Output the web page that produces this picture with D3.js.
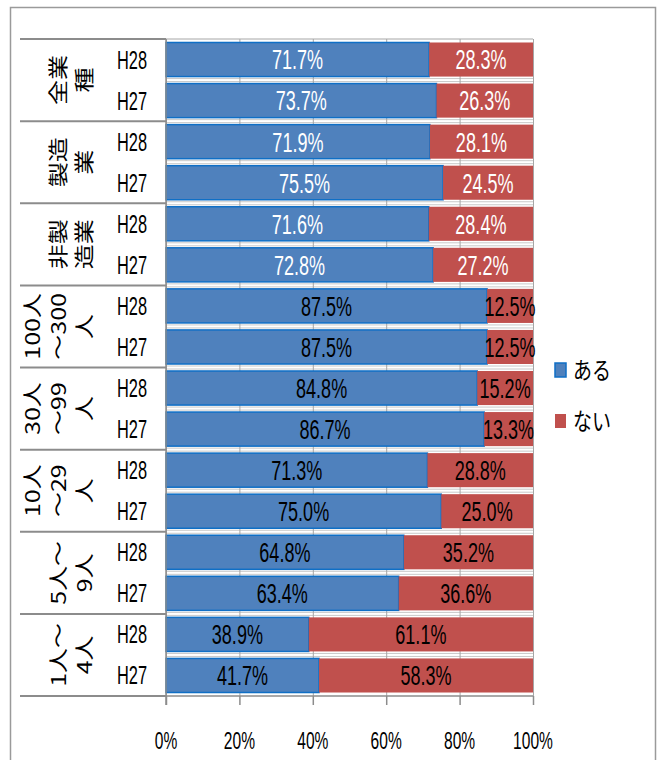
<!DOCTYPE html>
<html>
<head>
<meta charset="utf-8">
<script src="https://cdn.jsdelivr.net/npm/d3@7"></script>
<style>
  body { margin: 0; background: #fff; }
  text { font-family: "Liberation Sans", Arial, sans-serif; }
  .jp { font-family: "Noto Sans CJK JP", sans-serif; }
</style>
</head>
<body>
<div id="chart"></div>
<script>
// categories (each label already wrapped the way the original draws it)
const groupLines = [
  ["全業", "種"],
  ["製造", "業"],
  ["非製", "造業"],
  ["100人", "～300", "人"],
  ["30人", "～99", "人"],
  ["10人", "～29", "人"],
  ["5人～", "9人"],
  ["1人～", "4人"]
];
const years = ["H28", "H27"];
const seriesNames = ["ある", "ない"];
// two rows per group: H28 then H27
const aru = [71.7, 73.7, 71.9, 75.5, 71.6, 72.8, 87.5, 87.5, 84.8, 86.7, 71.3, 75.0, 64.8, 63.4, 38.9, 41.7];
const nai = [28.3, 26.3, 28.1, 24.5, 28.4, 27.2, 12.5, 12.5, 15.2, 13.3, 28.8, 25.0, 35.2, 36.6, 61.1, 58.3];
const tickValues = [0, 0.2, 0.4, 0.6, 0.8, 1];

const colors = { "ある": "#4F81BD", "ない": "#C0504D" };
const SY = 1.25; // the original is stretched vertically
const SX = 0.82; // narrow latin face

const rows = aru.map((v, i) => ({ id: i, group: Math.floor(i / 2), year: years[i % 2], "ある": v, "ない": nai[i] }));

const svg = d3.select("#chart").append("svg")
  .attr("width", 660).attr("height", 760);

// outer chart frame
svg.append("path")
  .attr("d", "M10.5,762 V7.5 H655.5 V762")
  .attr("fill", "none").attr("stroke", "#9a9a9a").attr("stroke-width", 1.5);

const x = d3.scaleLinear().domain([0, 1]).range([166, 533]);
const y = d3.scaleBand().domain(rows.map(d => d.id)).range([39, 696])
  .paddingInner(0.17).paddingOuter(0.085);

const stacked = d3.stack().keys(seriesNames).offset(d3.stackOffsetExpand)(rows);

// light double lines in the gaps between bars
const gapY = rows.slice(1).map(d => y(d.id) - (y.step() - y.bandwidth()) / 2);
[-1.5, 1.5].forEach(o => {
  svg.append("g").selectAll("line").data(gapY).join("line")
    .attr("x1", x(0)).attr("x2", x(1))
    .attr("y1", d => d + o).attr("y2", d => d + o)
    .attr("stroke", "#c8c8c8").attr("stroke-width", 1);
});

// vertical gridlines + bottom ticks
svg.append("g")
  .attr("transform", "translate(0,696)")
  .call(d3.axisBottom(x).tickValues(tickValues).tickSize(-657).tickFormat(""))
  .call(g => g.select(".domain").remove())
  .call(g => g.selectAll(".tick line").attr("stroke", "#a6a6a6"));
svg.append("g")
  .attr("transform", "translate(0,696)")
  .call(d3.axisBottom(x).tickValues(tickValues).tickSize(9).tickFormat(""))
  .call(g => g.select(".domain").remove())
  .call(g => g.selectAll(".tick line").attr("stroke", "#8c8c8c").attr("stroke-width", 1.5));

// plot top border
svg.append("line").attr("x1", x(0)).attr("x2", x(1)).attr("y1", 39).attr("y2", 39)
  .attr("stroke", "#a6a6a6");

// bars
const layer = svg.append("g").selectAll("g").data(stacked).join("g")
  .attr("fill", d => colors[d.key]);
layer.selectAll("rect").data(d => d.map(p => ({ p, key: d.key }))).join("rect")
  .attr("x", d => x(d.p[0]))
  .attr("y", d => y(d.p.data.id))
  .attr("width", d => x(d.p[1]) - x(d.p[0]))
  .attr("height", y.bandwidth())
  .attr("stroke", d => d.key === "ある" ? "#0F6FC6" : "none")
  .attr("stroke-width", 1.5);

// data labels
layer.selectAll("text").data(d => d.map(p => ({ p, key: d.key }))).join("text")
  .attr("transform", d => `translate(${(x(d.p[0]) + x(d.p[1])) / 2},${y(d.p.data.id) + y.bandwidth() / 2}) scale(${SX},${SY})`)
  .attr("text-anchor", "middle")
  .attr("dy", "0.36em")
  .attr("font-size", 22)
  .attr("fill", d => d.p.data.group < 3 ? "#fff" : "#000")
  .text(d => d.p.data[d.key].toFixed(1) + "%");

// left axis line and category separators
svg.append("line").attr("x1", 166).attr("x2", 166).attr("y1", 39).attr("y2", 705)
  .attr("stroke", "#8c8c8c").attr("stroke-width", 1.5);
const sepY = d3.range(groupLines.length + 1).map(k => y.range()[0] + k * 2 * y.step());
svg.append("g").selectAll("line").data(sepY).join("line")
  .attr("x1", 20).attr("x2", 166)
  .attr("y1", d => d).attr("y2", d => d)
  .attr("stroke", "#8c8c8c").attr("stroke-width", 2);
svg.append("line").attr("x1", 166).attr("x2", 533).attr("y1", 696).attr("y2", 696)
  .attr("stroke", "#8c8c8c").attr("stroke-width", 1.5);

// year labels
svg.append("g").selectAll("text").data(rows).join("text")
  .attr("transform", d => `translate(132,${y(d.id) + y.bandwidth() / 2}) scale(${SX},${SY})`)
  .attr("text-anchor", "middle").attr("dy", "0.36em")
  .attr("font-size", 20).attr("fill", "#000")
  .text(d => d.year);

// group labels, rotated, one text per wrapped line
groupLines.forEach((lines, gi) => {
  const cy = (sepY[gi] + sepY[gi + 1]) / 2;
  lines.forEach((ln, j) => {
    const cx = 85 - (lines.length - 1 - j) * 26;
    svg.append("text").attr("class", "jp")
      .attr("transform", `translate(${cx},${cy}) scale(1,${SY}) rotate(-90)`)
      .attr("text-anchor", "middle").attr("dy", "0.36em")
      .attr("font-size", 20).attr("fill", "#000")
      .text(ln);
  });
});

// x tick labels
svg.append("g").selectAll("text").data(tickValues).join("text")
  .attr("transform", d => `translate(${x(d)},740) scale(${SX},${SY})`)
  .attr("text-anchor", "middle").attr("dy", "0.36em")
  .attr("font-size", 19).attr("fill", "#000")
  .text(d3.format(".0%"));

// legend
const legend = svg.append("g").selectAll("g").data(seriesNames).join("g")
  .attr("transform", (d, i) => `translate(555,${370 + i * 51})`);
legend.append("rect")
  .attr("x", 0).attr("y", -7).attr("width", 11).attr("height", 14)
  .attr("fill", d => colors[d])
  .attr("stroke", d => d === "ある" ? "#0F6FC6" : "none").attr("stroke-width", 1.5);
legend.append("text").attr("class", "jp")
  .attr("transform", `translate(18,0) scale(1,${SY})`)
  .attr("dy", "0.36em")
  .attr("font-size", 19).attr("fill", "#000")
  .text(d => d);
</script>
</body>
</html>
